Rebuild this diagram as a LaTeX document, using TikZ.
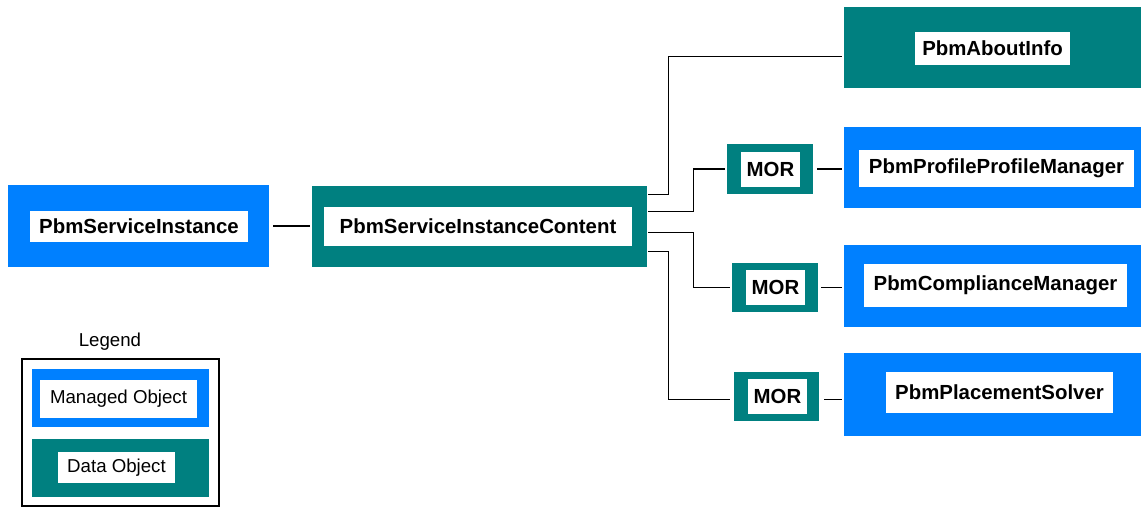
\documentclass[tikz,border=0pt]{standalone}
\usepackage{fontspec}
\setmainfont{Liberation Sans}
\usetikzlibrary{fit,calc}
\definecolor{moblue}{RGB}{0,128,255}
\definecolor{doteal}{RGB}{0,128,128}
\tikzset{
  x=0.75pt, y=-0.75pt,
  mobox/.style={fill=moblue, inner sep=0pt, draw=none},
  dobox/.style={fill=doteal, inner sep=0pt, draw=none},
  label box/.style={fill=white, inner sep=0pt,
    label={[inner sep=0pt, font=\fontsize{15.3}{18}\selectfont\bfseries]center:#1}},
  legend label/.style={fill=white, inner sep=0pt,
    label={[inner sep=0pt, font=\fontsize{14}{17}\selectfont]center:#1}},
  conn/.style={draw=black, line width=1.1pt},
}
\begin{document}
\begin{tikzpicture}
\useasboundingbox[fill=white] (0,0) rectangle (1141,508);
% main boxes
\node[mobox, fit={(8,185) (269,267)}] (si) {};
\node[label box=PbmServiceInstance, fit={(30,211) (248,242)}] (sit) {};
\node[dobox, fit={(312,186) (647,267)}] (sic) {};
\node[label box=PbmServiceInstanceContent, fit={(324,207) (632,246)}] (sict) {};
\node[dobox, fit={(844,7) (1141,88)}] (about) {};
\node[label box=PbmAboutInfo, fit={(915,32) (1070,65)}] (aboutt) {};
\node[mobox, fit={(844,127) (1141,208)}] (prof) {};
\node[label box=PbmProfileProfileManager, fit={(859,150) (1134,187)}] (proft) {};
\node[mobox, fit={(844,245) (1141,327)}] (comp) {};
\node[label box=PbmComplianceManager, fit={(864,264) (1127,307)}] (compt) {};
\node[mobox, fit={(844,353) (1141,436)}] (place) {};
\node[label box=PbmPlacementSolver, fit={(886,372) (1113,413)}] (placet) {};
% MOR boxes
\node[dobox, fit={(727,144) (813,194)}] (mor1) {};
\node[label box=MOR, fit={(741,152) (800,187)}] (mor1t) {};
\node[dobox, fit={(732,263) (818,312)}] (mor2) {};
\node[label box=MOR, fit={(746,270) (805,305)}] (mor2t) {};
\node[dobox, fit={(734,372) (819,421)}] (mor3) {};
\node[label box=MOR, fit={(748,379) (807,414)}] (mor3t) {};
% connectors
\draw[conn, shorten <=3pt, shorten >=1.5pt] (si.east) -- (si.east -| sic.west);
\draw[conn] ($(sic.north east)+(1,9)$) -- ++(20,0) |- ($(about.south west)+(-2,-32)$);
\draw[conn] ($(sic.north east)+(1,26)$) -- ++(45,0) |- ($(mor1.west)+(-2,0)$);
\draw[conn] ($(sic.north east)+(1,47)$) -- ++(45,0) |- ($(mor2.west)+(-2,0)$);
\draw[conn] ($(sic.north east)+(1,66)$) -- ++(20,0) |- ($(mor3.west)+(-4,3)$);
\draw[conn, shorten <=3pt, shorten >=1.5pt] (mor1.east) -- (mor1.east -| prof.west);
\draw[conn, shorten <=2.25pt, shorten >=1.5pt] (mor2.east) -- (mor2.east -| comp.west);
\draw[conn, shorten <=3.75pt, shorten >=1.5pt] ($(mor3.east)+(0,3)$) -- ($(mor3.east -| place.west)+(0,3)$);
% legend
\node[font=\fontsize{14}{17}\selectfont, inner sep=0pt] (legt) at (110,342) {Legend};
\node[draw=black, line width=0.8pt, inner sep=0pt, fit={(22,359) (219,506)}] (leg) {};
\node[mobox, fit={(32,369) (209,427)}] (mo) {};
\node[legend label=Managed Object, fit={(40,380) (197,418)}] (mot) {};
\node[dobox, fit={(32,439) (209,497)}] (do) {};
\node[legend label=Data Object, fit={(58,452) (175,483)}] (dot) {};
\end{tikzpicture}
\end{document}
